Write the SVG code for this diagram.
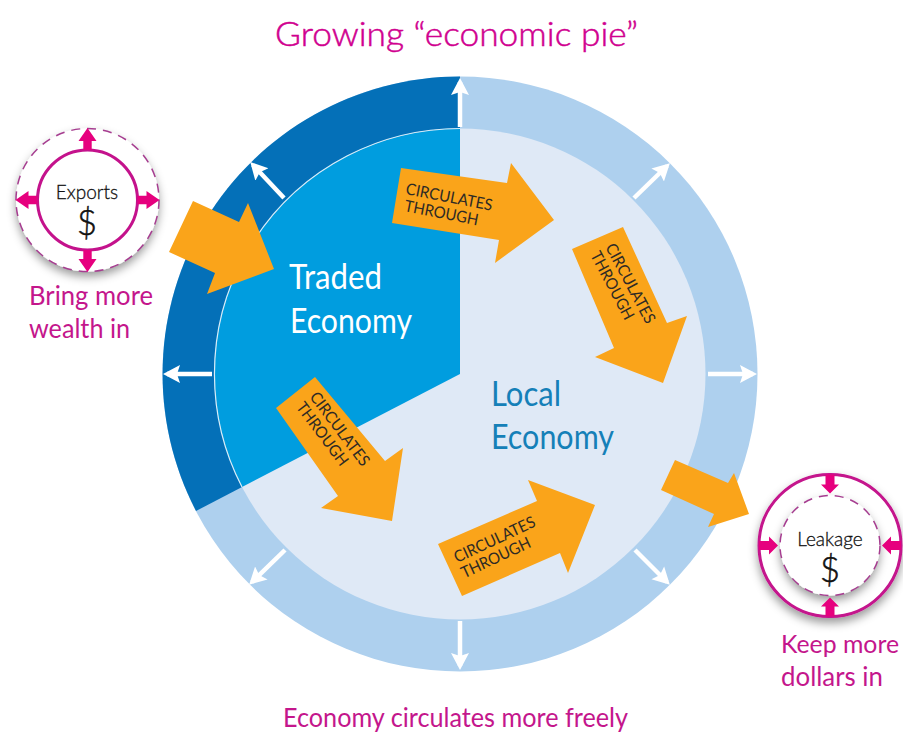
<svg xmlns="http://www.w3.org/2000/svg" width="903" height="733" viewBox="0 0 903 733">
<style>
text{font-family:Lato,"Open Sans","Liberation Sans",sans-serif}
.pink{fill:#c4168c;font-size:26.500px}
.blk{fill:#111;stroke:#111;stroke-width:.3px;font-size:19px;text-anchor:middle;font-weight:300}
.dol{fill:#111;stroke:#111;stroke-width:.5px;font-size:35px;text-anchor:middle;font-weight:300}
.arr{fill:#faa41a}
.circ{fill:#2e2a25;font-size:16px}
.wl{fill:#fff;font-size:34px}
.bl{fill:#1580b8;font-size:34px}
.wa{stroke:#fff;stroke-width:4.500;fill:none;marker-end:url(#wh)}
.pa{fill:#e6007e}
</style>
<defs>
<marker id="wh" markerUnits="userSpaceOnUse" markerWidth="20" markerHeight="20" refX="13" refY="10" orient="auto"><path d="M0 1L17 10L0 19L3 10Z" fill="#fff"/></marker>
<filter id="sh" x="-30%" y="-30%" width="160%" height="160%"><feDropShadow dx="0" dy="5" stdDeviation="5" flood-color="#000" flood-opacity=".4"/></filter>
<path id="pout" class="pa" d="M-4.200 0V-9H-9L0 -22L9 -9H4.200V0Z"/>
<path id="pin" class="pa" d="M-4.500 -19V-9H-9L0 0L9 -9H4.500V-19Z"/>
</defs>
<rect width="903" height="733" fill="#fff"/>
<text x="275" y="46" font-size="34" font-weight="300" fill="#d0008f" stroke="#d0008f" stroke-width=".5" textLength="363" lengthAdjust="spacingAndGlyphs">Growing “economic pie”</text>
<g id="wheel">
<circle cx="460" cy="374" r="297.500" fill="#aed0ee"/>
<path d="M460 374V76.500A297.500 297.500 0 0 0 196 511Z" fill="#0470b8"/>
<circle cx="460" cy="374" r="245.500" fill="#dfe9f6"/>
<path d="M460 374V128.500A245.500 245.500 0 0 0 242 487Z" fill="#009ddf"/>
<path d="M460 128.500A245.500 245.500 0 0 0 242 487" fill="none" stroke="#d7ecf8" stroke-width="1.200"/>
</g>
<g id="connectors">
<line class="wa" x1="460" y1="127" x2="460" y2="82"/>
<line class="wa" x1="634" y1="198" x2="667" y2="166"/>
<line class="wa" x1="708" y1="374" x2="753" y2="374"/>
<line class="wa" x1="635" y1="550" x2="667" y2="582"/>
<line class="wa" x1="460" y1="621" x2="460" y2="666"/>
<line class="wa" x1="285" y1="550" x2="252" y2="582"/>
<line class="wa" x1="212" y1="374" x2="167" y2="374"/>
<line class="wa" x1="284" y1="198" x2="253" y2="165"/>
<polygon class="arr" points="193,201 239,222 248,203 274,269 207,294 215,273 169,252"/>
<polygon class="arr" points="675,460 728,483 734,473 749,514 708,527 714,514 661,490"/>
<polygon class="arr" points="401,168 507,183 511,163 554,220 495,263 499,240 392,223"/>
<polygon class="arr" points="623,227 667,323 687,316 663,383 595,357 614,348 572,249"/>
<polygon class="arr" points="276,408 315,377 385,461 403,448 392,521 321,508 338,496"/>
<polygon class="arr" points="438,544 537,501 528,480 595,505 568,573 560,553 462,596"/>
<g class="circ">
<g transform="translate(405,194) rotate(11)"><text textLength="88" lengthAdjust="spacingAndGlyphs">CIRCULATES</text><text x="2" y="17" textLength="75" lengthAdjust="spacingAndGlyphs">THROUGH</text></g>
<g transform="translate(605,247) rotate(62)"><text textLength="88" lengthAdjust="spacingAndGlyphs">CIRCULATES</text><text y="17" textLength="75" lengthAdjust="spacingAndGlyphs">THROUGH</text></g>
<g transform="translate(309,397) rotate(53)"><text textLength="88" lengthAdjust="spacingAndGlyphs">CIRCULATES</text><text y="17" textLength="75" lengthAdjust="spacingAndGlyphs">THROUGH</text></g>
<g transform="translate(457,563) rotate(-25)"><text textLength="88" lengthAdjust="spacingAndGlyphs">CIRCULATES</text><text y="17" textLength="75" lengthAdjust="spacingAndGlyphs">THROUGH</text></g>
</g>
</g>
<g id="traded"><text class="wl" x="289" y="289" textLength="93" lengthAdjust="spacingAndGlyphs">Traded</text><text class="wl" x="290" y="333" textLength="122" lengthAdjust="spacingAndGlyphs">Economy</text></g>
<g id="local"><text class="bl" x="491" y="406" textLength="70" lengthAdjust="spacingAndGlyphs">Local</text><text class="bl" x="491" y="449" textLength="123" lengthAdjust="spacingAndGlyphs">Economy</text></g>
<g id="exports">
<circle cx="87.500" cy="200" r="71.500" fill="#fff" filter="url(#sh)"/>
<circle cx="87.500" cy="200" r="71.500" fill="none" stroke="#a63d90" stroke-width="1.500" stroke-dasharray="9 7"/>
<circle cx="87.500" cy="200" r="50" fill="#fff" stroke="#c4128c" stroke-width="3"/>
<use href="#pout" transform="translate(87.500,150)"/><use href="#pout" transform="translate(137.500,200) rotate(90)"/><use href="#pout" transform="translate(87.500,250) rotate(180)"/><use href="#pout" transform="translate(37.500,200) rotate(-90)"/>
<text class="blk" x="87" y="199">Exports</text><text class="dol" x="87" y="235">$</text>
<text class="pink" x="29" y="305" textLength="124" lengthAdjust="spacingAndGlyphs">Bring more</text><text class="pink" x="29" y="338" textLength="101" lengthAdjust="spacingAndGlyphs">wealth in</text>
</g>
<g id="leakage">
<circle cx="830" cy="545.500" r="71" fill="#fff" stroke="#c4128c" stroke-width="3" filter="url(#sh)"/>
<circle cx="830" cy="545.500" r="50" fill="#fff" filter="url(#sh)"/>
<circle cx="830" cy="545.500" r="50" fill="none" stroke="#a63d90" stroke-width="1.500" stroke-dasharray="9 7"/>
<use href="#pin" transform="translate(830,493.500)"/><use href="#pin" transform="translate(882,545.500) rotate(90)"/><use href="#pin" transform="translate(830,597.500) rotate(180)"/><use href="#pin" transform="translate(778,545.500) rotate(-90)"/>
<text class="blk" x="830" y="546">Leakage</text><text class="dol" x="830" y="582">$</text>
<text class="pink" x="781" y="653" style="font-size:25px" textLength="118" lengthAdjust="spacingAndGlyphs">Keep more</text><text class="pink" x="781" y="686" textLength="102" lengthAdjust="spacingAndGlyphs">dollars in</text>
</g>
<text class="pink" x="283" y="727" textLength="345" lengthAdjust="spacingAndGlyphs">Economy circulates more freely</text>
</svg>
